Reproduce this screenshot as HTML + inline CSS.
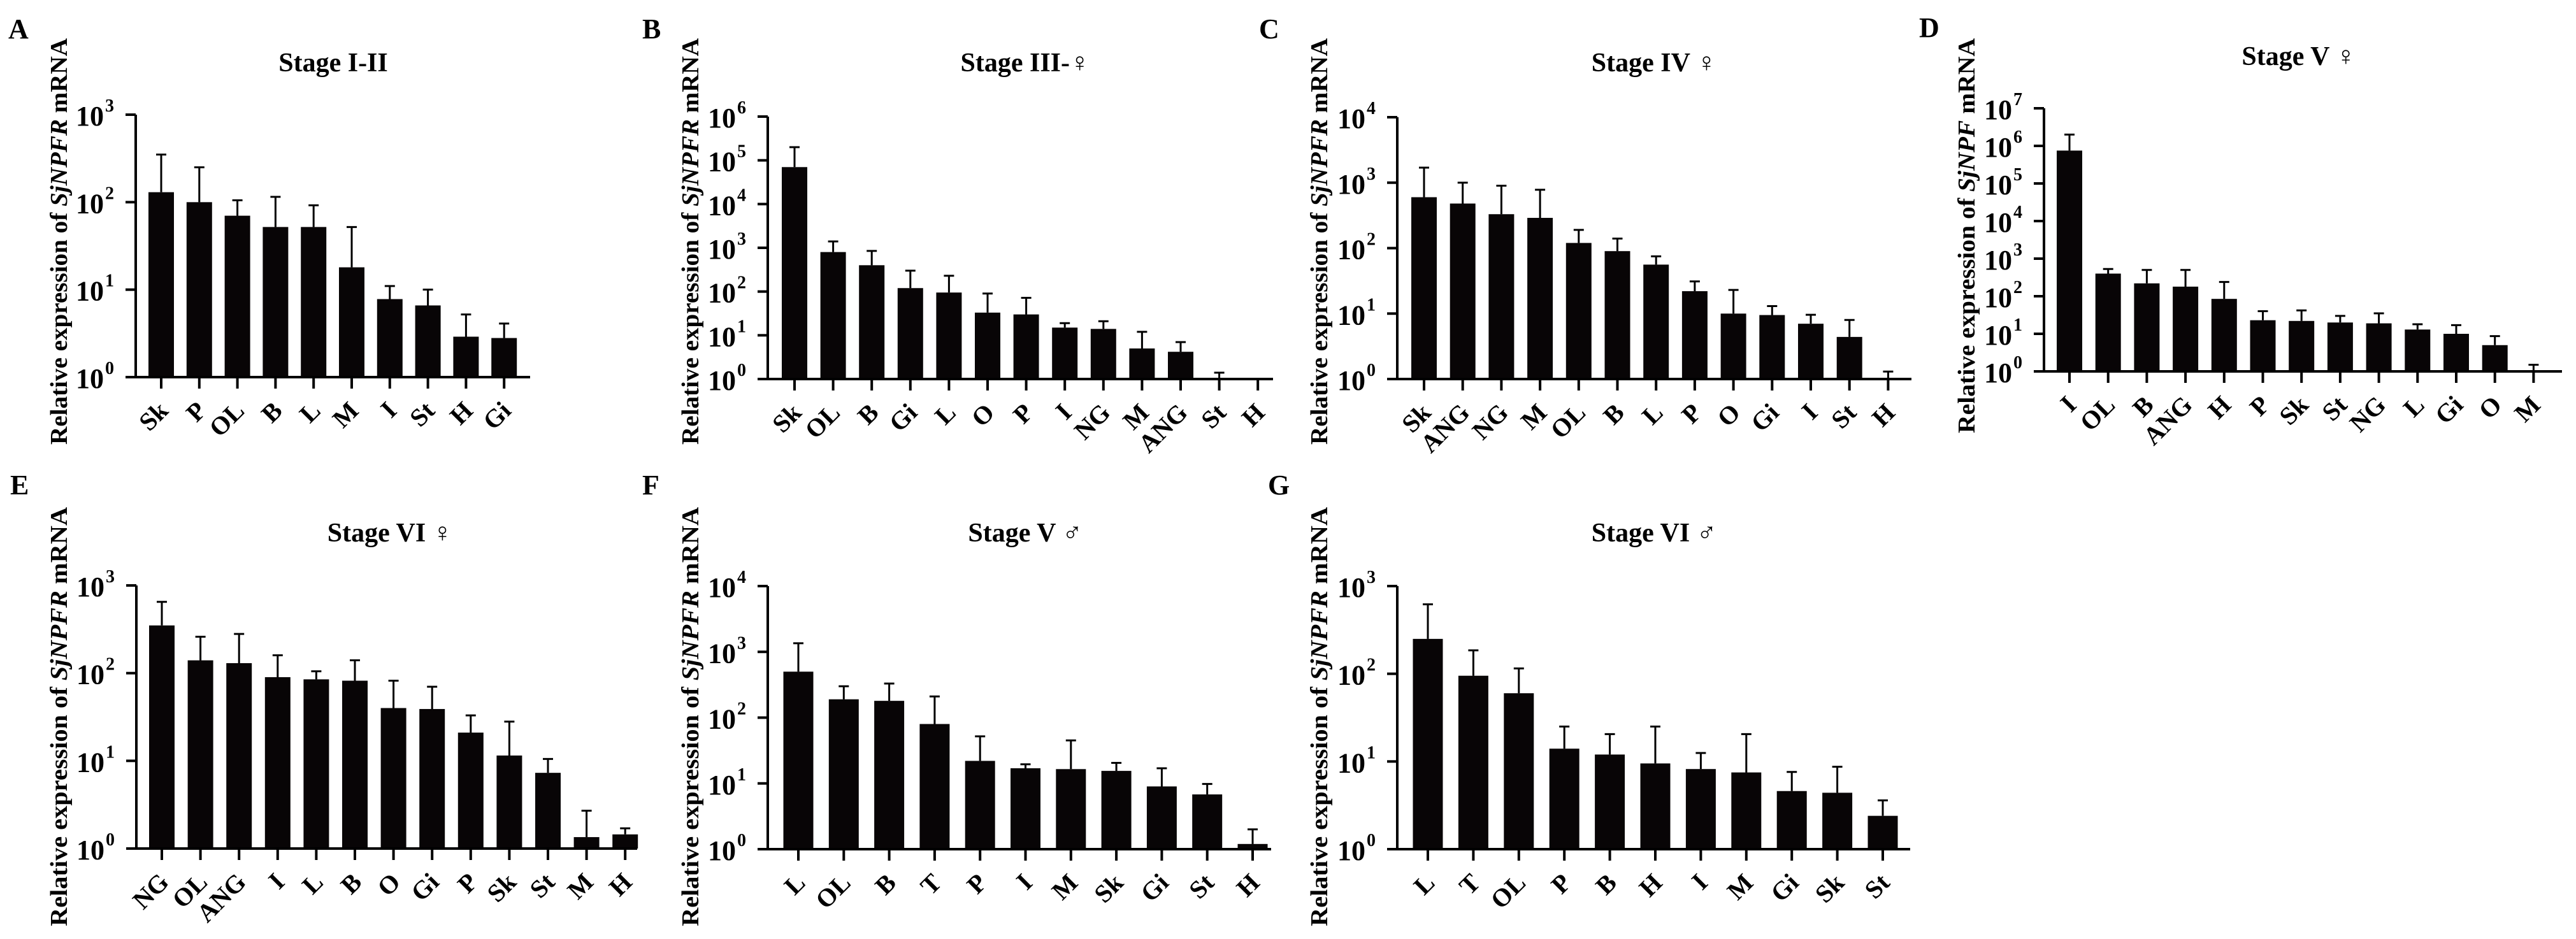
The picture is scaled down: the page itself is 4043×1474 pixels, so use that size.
<!DOCTYPE html>
<html><head><meta charset="utf-8"><style>
html,body{margin:0;padding:0;background:#fff;}
svg{display:block;}
text{font-family:"Liberation Serif","DejaVu Serif",serif;font-weight:bold;fill:#000;}
</style></head>
<body>
<svg id="fig" width="4043" height="1474" viewBox="0 0 4043 1474" xmlns="http://www.w3.org/2000/svg"></svg>
<script>
// Panel A: Stage I-II
const catsA=["Sk","P","OL","B","L","M","I","St","H","Gi"];
const valsA=[130,100,70,52,52,18,7.8,6.6,2.9,2.8];
const errsA=[350,250,105,115,92,52,11,10,5.2,4.1];
// Panel B: Stage III female
const catsB=["Sk","OL","B","Gi","L","O","P","I","NG","M","ANG","St","H"];
const valsB=[70000,800,400,120,95,33,30,15,14,5,4.2,1,1];
const errsB=[200000,1400,850,300,230,90,72,19,21,12,7,1.4,1];
// Panel C: Stage IV female
const catsC=["Sk","ANG","NG","M","OL","B","L","P","O","Gi","I","St","H"];
const valsC=[600,480,330,290,120,90,56,22,10,9.5,7,4.4,1];
const errsC=[1700,1000,900,780,190,140,75,31,23,13,9.6,8,1.3];
// Panel D: Stage V female
const catsD=["I","OL","B","ANG","H","P","Sk","St","NG","L","Gi","O","M"];
const valsD=[750000,400,220,180,85,23,22,20,19,13,10,5,1];
const errsD=[2000000,530,500,500,240,40,42,30,35,18,17,8.7,1.5];
// Panel E: Stage VI female
const catsE=["NG","OL","ANG","I","L","B","O","Gi","P","Sk","St","M","H"];
const valsE=[350,140,130,90,85,82,40,39,21,11.5,7.3,1.35,1.45];
const errsE=[650,260,280,160,105,140,82,70,33,28,10.5,2.7,1.7];
// Panel F: Stage V male
const catsF=["L","OL","B","T","P","I","M","Sk","Gi","St","H"];
const valsF=[500,190,180,80,22,17,16.5,15.5,9,6.8,1.2];
const errsF=[1350,300,330,210,52,19.5,45,20.5,17,9.8,2];
// Panel G: Stage VI male
const catsG=["L","T","OL","P","B","H","I","M","Gi","Sk","St"];
const valsG=[250,95,60,14,12,9.5,8.2,7.5,4.6,4.4,2.4];
const errsG=[620,185,115,25,20.5,25,12.5,20.5,7.6,8.7,3.6];

const NS="http://www.w3.org/2000/svg";
const svg=document.getElementById('fig');
function mk(tag,attrs,parent){const e=document.createElementNS(NS,tag);for(const k in attrs)e.setAttribute(k,attrs[k]);(parent||svg).appendChild(e);return e;}

const panels=[
 {id:"a",letter:"A",lx:13,ly:60,title:"Stage I-II",tx:523,ty:112,ax:213,top:180,bot:592,maxExp:3,x0:253,step:59.8,bw:40,xEnd:832,ylx:92,yly:379,ylen:638,cats:catsA,vals:valsA,errs:errsA,ylab:"SjNPFR"},
 {id:"b",letter:"B",lx:1008,ly:60,title:"Stage III-\u2640",tx:1609,ty:112,ax:1205,top:183,bot:595,maxExp:6,x0:1247,step:60.6,bw:40,xEnd:1998,ylx:1083,yly:379,ylen:638,cats:catsB,vals:valsB,errs:errsB,ylab:"SjNPFR"},
 {id:"c",letter:"C",lx:1976,ly:60,title:"Stage IV \u2640",tx:2596,ty:112,ax:2193,top:184,bot:595,maxExp:4,x0:2235,step:60.7,bw:40,xEnd:3000,ylx:2070,yly:379,ylen:638,cats:catsC,vals:valsC,errs:errsC,ylab:"SjNPFR"},
 {id:"d",letter:"D",lx:3012,ly:58,title:"Stage V \u2640",tx:3608,ty:102,ax:3208,top:170,bot:583,maxExp:7,x0:3248,step:60.7,bw:40,xEnd:4021,ylx:3086,yly:370,ylen:620,cats:catsD,vals:valsD,errs:errsD,ylab:"SjNPF"},
 {id:"e",letter:"E",lx:16,ly:776,title:"Stage VI \u2640",tx:612,ty:850,ax:214,top:919,bot:1332,maxExp:3,x0:254,step:60.6,bw:40,xEnd:1000,ylx:92,yly:1125,ylen:658,cats:catsE,vals:valsE,errs:errsE,ylab:"SjNPFR"},
 {id:"f",letter:"F",lx:1008,ly:776,title:"Stage V \u2642",tx:1609,ty:850,ax:1205,top:920,bot:1333,maxExp:4,x0:1253,step:71.3,bw:47,xEnd:1995,ylx:1083,yly:1125,ylen:658,cats:catsF,vals:valsF,errs:errsF,ylab:"SjNPFR"},
 {id:"g",letter:"G",lx:1990,ly:776,title:"Stage VI \u2642",tx:2596,ty:850,ax:2193,top:920,bot:1333,maxExp:3,x0:2241,step:71.4,bw:47,xEnd:2998,ylx:2070,yly:1125,ylen:658,cats:catsG,vals:valsG,errs:errsG,ylab:"SjNPFR"}
];

panels.forEach(p=>{
  const g=mk('g',{});
  
  
  const yScale=v=>p.bot-(Math.log10(Math.max(v,1))/p.maxExp)*(p.bot-p.top);
  const xScale=i=>p.x0+i*p.step;

  const L=mk('text',{x:p.lx,y:p.ly,'font-size':44},g);L.textContent=p.letter;
  
  

  const T=mk('text',{x:p.tx,y:p.ty,'font-size':42,'text-anchor':'middle'},g);T.textContent=p.title;
  
  

  const YL=mk('text',{x:0,y:0,'font-size':38,'text-anchor':'middle',transform:`translate(${p.ylx+13},${p.yly}) rotate(-90)`,textLength:p.ylen,lengthAdjust:'spacingAndGlyphs'},g);
  
  
  const t1=mk('tspan',{},YL);t1.textContent="Relative expression of ";
  const t2=mk('tspan',{'font-style':'italic'},YL);t2.textContent=p.ylab;
  const t3=mk('tspan',{},YL);t3.textContent=" mRNA";

  // bars + errors
  p.cats.forEach((c,i)=>{
    const cx=xScale(i), yv=yScale(p.vals[i]), ye=yScale(p.errs[i]);
    const r=mk('rect',{x:cx-p.bw/2,y:yv,width:p.bw,height:Math.max(0,p.bot-yv),fill:'#080506'},g);
    
    
    if(ye<yv-1){
      const e=mk('path',{d:`M${cx},${yv} V${ye} M${cx-8},${ye} H${cx+8}`,stroke:'#000','stroke-width':3,fill:'none'},g);
      
      
    }
    const tk=mk('line',{x1:cx,x2:cx,y1:p.bot,y2:p.bot+18,stroke:'#000','stroke-width':4},g);
    
    
    const lb=mk('text',{x:0,y:0,'font-size':40,'text-anchor':'end',transform:`translate(${cx+13},${p.bot+55}) rotate(-45)`},g);
    lb.textContent=c;
    
    
  });

  // axes
  const ax=mk('path',{d:`M${p.ax},${p.top} V${p.bot} H${p.xEnd}`,stroke:'#000','stroke-width':4,fill:'none'},g);
  
  
  for(let k=0;k<=p.maxExp;k++){
    const y=yScale(Math.pow(10,k));
    const tk=mk('line',{x1:p.ax-16,x2:p.ax,y1:y,y2:y,stroke:'#000','stroke-width':4},g);
    
    
    const tl=mk('text',{x:p.ax-50,y:y+17,'font-size':44,'text-anchor':'end'},g);
    tl.textContent="10";
    
    
    const sp=mk('text',{x:p.ax-48,y:y-5,'font-size':28},g);
    sp.textContent=String(k);
    
    
  }
});
</script>
</body></html>
